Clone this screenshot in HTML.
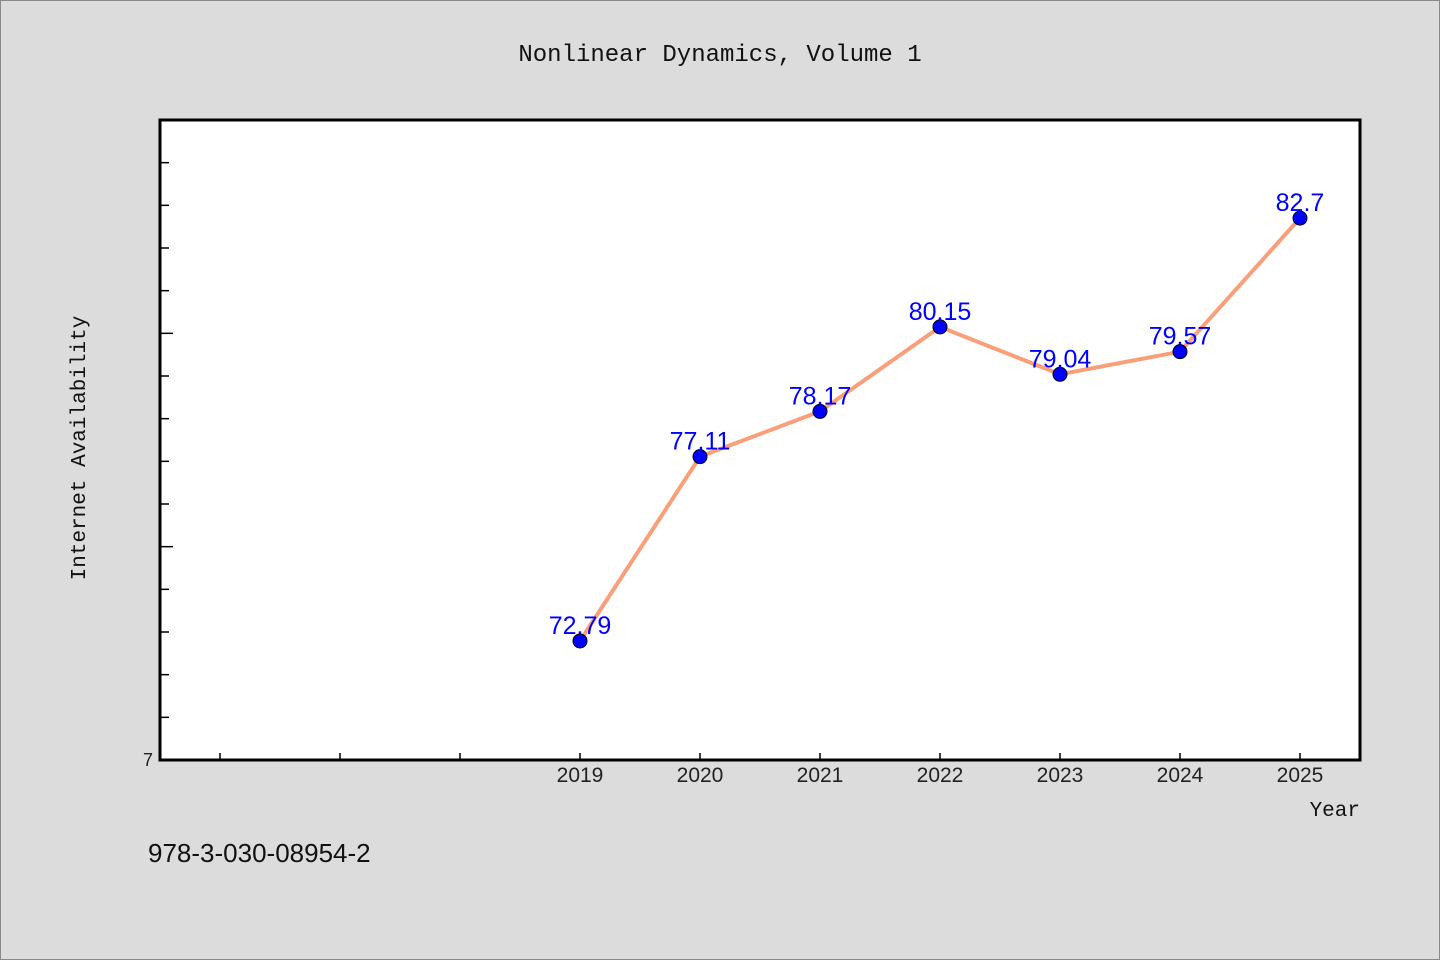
<!DOCTYPE html>
<html><head><meta charset="utf-8"><style>
html,body{margin:0;padding:0;background:#dcdcdc;}
svg{display:block;font-family:"Liberation Mono","DejaVu Sans Mono",monospace;}
</style></head><body>
<svg id="chart" width="1440" height="960" viewBox="0 0 1440 960">
<rect x="0.5" y="0.5" width="1439" height="959" fill="#dcdcdc" stroke="#888"/>
<text x="720" y="61" text-anchor="middle" font-size="24" fill="#111">Nonlinear Dynamics, Volume 1</text>
<rect x="160" y="120" width="1200" height="640" fill="#fff" stroke="#000" stroke-width="3"/>
<text transform="translate(85,448) rotate(-90)" text-anchor="middle" font-size="21" fill="#111">Internet Availability</text>
<text x="1360" y="816" text-anchor="end" font-size="21" fill="#111">Year</text>
<text x="148" y="862" font-size="26" fill="#111" font-family="Liberation Sans, sans-serif">978-3-030-08954-2</text>
<g id="axes"></g>
<g id="series"></g>
</svg>
<script>
const years = [2019, 2020, 2021, 2022, 2023, 2024, 2025];
const values = [72.79, 77.11, 78.17, 80.15, 79.04, 79.57, 82.7];
const labels = ["72.79", "77.11", "78.17", "80.15", "79.04", "79.57", "82.7"];
const xMinorTicks = [2016, 2017, 2018];
const yTicks = [71,72,73,74,75,76,77,78,79,80,81,82,83,84];
const yMajor = [75, 80];
const NS = "http://www.w3.org/2000/svg";
const X0 = 160, X1 = 1360, Y0 = 760, Y1 = 120;
const xMin = 2015.5, xMax = 2025.5, yMin = 70, yMax = 85;
const xs = v => X0 + (v - xMin) / (xMax - xMin) * (X1 - X0);
const ys = v => Y0 - (v - yMin) / (yMax - yMin) * (Y0 - Y1);
function mk(tag, attrs, parent) {
  const e = document.createElementNS(NS, tag);
  for (const k in attrs) e.setAttribute(k, attrs[k]);
  parent.appendChild(e);
  return e;
}
const axes = document.getElementById("axes");
const series = document.getElementById("series");
yTicks.forEach(t => {
  const len = yMajor.includes(t) ? 13 : 9;
  const l = mk("line", {x1: X0, x2: X0 + len, y1: ys(t), y2: ys(t), stroke: "#000", "stroke-width": 1.5}, axes);
  
  
});
const y0l = mk("text", {x: 153, y: ys(70) + 6, "text-anchor": "end", "font-size": 18, fill: "#222", "font-family": "Liberation Sans, sans-serif"}, axes);
y0l.textContent = "7";


xMinorTicks.concat(years).forEach(t => {
  const l = mk("line", {x1: xs(t), x2: xs(t), y1: Y0, y2: Y0 - 7, stroke: "#000", "stroke-width": 1.5}, axes);
  
  
});
years.forEach(t => {
  const tx = mk("text", {x: xs(t), y: 782, "text-anchor": "middle", "font-size": 21, fill: "#222", "font-family": "Liberation Sans, sans-serif"}, axes);
  tx.textContent = t;
  
  
});
const pts = years.map((y, i) => xs(y) + "," + ys(values[i])).join(" ");
const line = mk("polyline", {points: pts, fill: "none", stroke: "#f9a07a", "stroke-width": 4, "stroke-linejoin": "round"}, series);


years.forEach((y, i) => {
  const c = mk("circle", {cx: xs(y), cy: ys(values[i]), r: 7, fill: "#0000ff", stroke: "#000", "stroke-width": 1}, series);
  
  
  const t = mk("text", {x: xs(y), y: ys(values[i]) - 7, "text-anchor": "middle", "font-size": 25, fill: "#0000ff", "font-family": "Liberation Sans, sans-serif"}, series);
  t.textContent = labels[i];
  
  
});
</script>
</body></html>
